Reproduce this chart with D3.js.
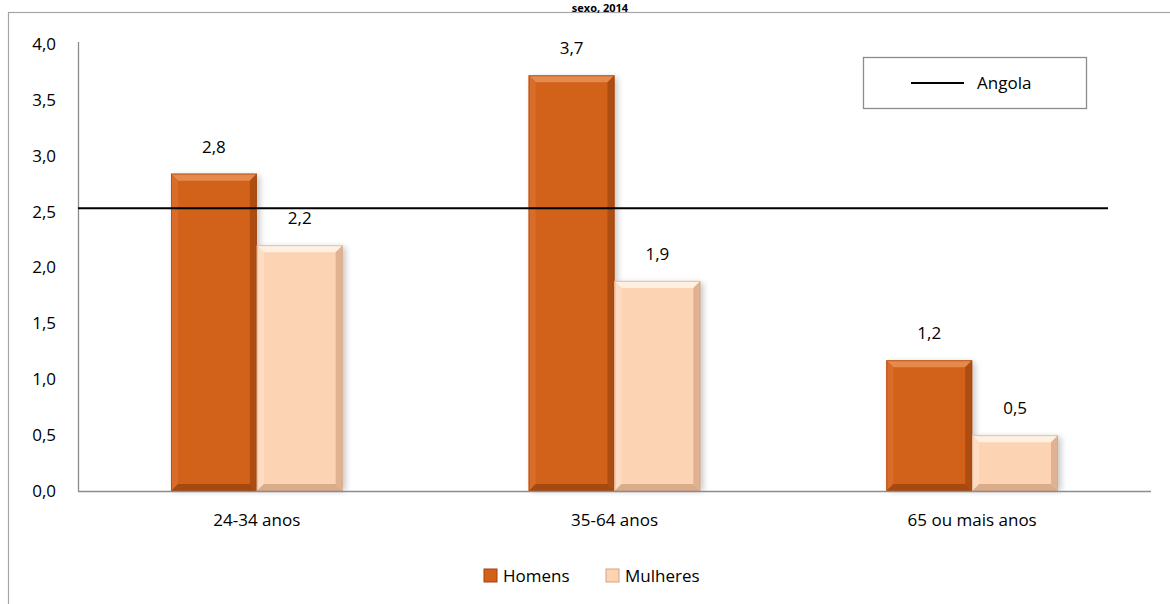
<!DOCTYPE html>
<html>
<head>
<meta charset="utf-8">
<script src="https://cdn.jsdelivr.net/npm/d3@7"></script>
<style>
  body { margin: 0; background: #fff; }
  svg { display: block; font-family: "Open Sans", Lato, sans-serif; }
</style>
</head>
<body>
<div id="chart"></div>
<script>
// data
const categories = ["24-34 anos", "35-64 anos", "65 ou mais anos"]
const seriesNames = ["Homens", "Mulheres"]
const homens = [2.84, 3.72, 1.17]
const mulheres = [2.2, 1.88, 0.5]
const angola = 2.53
const yTicks = [0, 0.5, 1, 1.5, 2, 2.5, 3, 3.5, 4]

const width = 1170, height = 604
const margin = { top: 44, right: 19, bottom: 113, left: 78 }

const colors = {
   Homens: { base: "#d2611a", light: "#e58a4a", side: "#d96c2a", dark: "#9e4510" },
   Mulheres: { base: "#fcd4b4", light: "#fff0e2", side: "#fddcc2", dark: "#d4a483" }
}

const data = categories.map((c, i) => ({ cat: c, Homens: homens[i], Mulheres: mulheres[i] }))

const fmt = v => d3.format(".1f")(v).replace(".", ",")

const x0 = d3.scaleBand()
   .domain(categories)
   .range([margin.left, width - margin.right])
   .paddingInner(0.52)
   .paddingOuter(0.26)

const x1 = d3.scaleBand()
   .domain(seriesNames)
   .range([0, x0.bandwidth()])

const y = d3.scaleLinear()
   .domain([0, 4])
   .range([height - margin.bottom, margin.top])

const svg = d3.select("#chart").append("svg")
   .attr("width", width)
   .attr("height", height)

// outer chart frame
svg.append("rect")
   .attr("x", 8.5).attr("y", 12.5)
   .attr("width", 1200).attr("height", 700)
   .attr("fill", "#fff")
   .attr("stroke", "#a6a6a6")
   .attr("stroke-width", 1.2)

// title (first line falls off the top in the original)
svg.append("text")
   .attr("x", 600).attr("y", 11.5)
   .attr("text-anchor", "middle")
   .attr("font-weight", "bold")
   .attr("font-size", 11)
   .text("sexo, 2014")

const defs = svg.append("defs")
const blur = defs.append("filter").attr("id", "shadow")
   .attr("x", "-20%").attr("y", "-10%").attr("width", "150%").attr("height", "130%")
blur.append("feGaussianBlur").attr("stdDeviation", 3)

// y axis labels
svg.append("g")
   .attr("font-size", 17)
   .attr("fill", "#000")
   .selectAll("text")
   .data(yTicks)
   .join("text")
   .attr("x", 56)
   .attr("y", d => y(d))
   .attr("dy", "0.35em")
   .attr("text-anchor", "end")
   .text(d => d3.format(".1f")(d).replace(".", ","))

// bars
const bars = []
data.forEach(d => {
   seriesNames.forEach(s => {
      bars.push({ cat: d.cat, key: s, value: d[s] })
   })
})

const barG = svg.append("g")

// soft shadow behind each bar
barG.selectAll("rect.shadow")
   .data(bars)
   .join("rect")
   .attr("class", "shadow")
   .attr("x", d => x0(d.cat) + x1(d.key) + 3)
   .attr("y", d => y(d.value) + 2)
   .attr("width", x1.bandwidth())
   .attr("height", d => y(0) - y(d.value) - 2)
   .attr("fill", "#000")
   .attr("opacity", 0.22)
   .attr("filter", "url(#shadow)")

const bev = 7
bars.forEach(d => {
   const c = colors[d.key]
   const xl = x0(d.cat) + x1(d.key), xr = xl + x1.bandwidth()
   const yt = y(d.value), yb = y(0)
   const g = barG.append("g")
   g.append("rect")
      .attr("x", xl).attr("y", yt)
      .attr("width", xr - xl).attr("height", yb - yt)
      .attr("fill", c.base)
   const poly = (pts, fill, op) => g.append("polygon")
      .attr("points", pts.map(p => p.join(",")).join(" "))
      .attr("fill", fill).attr("opacity", op)
   // top bevel
   poly([[xl, yt], [xr, yt], [xr - bev, yt + bev], [xl + bev, yt + bev]], c.light, 1)
   // left bevel
   poly([[xl, yt], [xl + bev, yt + bev], [xl + bev, yb - bev], [xl, yb]], c.side, 1)
   // right bevel
   poly([[xr, yt], [xr, yb], [xr - bev, yb - bev], [xr - bev, yt + bev]], c.dark, 0.7)
   // bottom bevel
   poly([[xl, yb], [xr, yb], [xr - bev, yb - bev], [xl + bev, yb - bev]], c.dark, 0.85)
   g.append("rect")
      .attr("x", xl + 0.5).attr("y", yt + 0.5)
      .attr("width", xr - xl - 1).attr("height", yb - yt - 1)
      .attr("fill", "none")
      .attr("stroke", c.dark)
      .attr("stroke-opacity", 0.6)
})

// value labels
svg.append("g")
   .attr("font-size", 17)
   .attr("text-anchor", "middle")
   .selectAll("text")
   .data(bars)
   .join("text")
   .attr("x", d => x0(d.cat) + x1(d.key) + x1.bandwidth() / 2)
   .attr("y", d => y(d.value) - 27)
   .attr("dy", "0.35em")
   .text(d => fmt(d.value))

// axes lines
svg.append("line")
   .attr("x1", margin.left + 0.5).attr("x2", margin.left + 0.5)
   .attr("y1", margin.top - 2).attr("y2", y(0))
   .attr("stroke", "#8c8c8c").attr("stroke-width", 1.3)
svg.append("line")
   .attr("x1", margin.left).attr("x2", width - margin.right)
   .attr("y1", y(0) + 0.5).attr("y2", y(0) + 0.5)
   .attr("stroke", "#8c8c8c").attr("stroke-width", 1.3)

// category labels
svg.append("g")
   .attr("font-size", 17)
   .attr("text-anchor", "middle")
   .selectAll("text")
   .data(categories)
   .join("text")
   .attr("x", d => x0(d) + x0.bandwidth() / 2)
   .attr("y", y(0) + 35)
   .text(d => d)

// Angola reference line
svg.append("line")
   .attr("x1", margin.left).attr("x2", 1108)
   .attr("y1", y(angola)).attr("y2", y(angola))
   .attr("stroke", "#000").attr("stroke-width", 1.8)

// Angola legend box
const lg = svg.append("g")
lg.append("rect")
   .attr("x", 863.5).attr("y", 57.5)
   .attr("width", 223).attr("height", 51)
   .attr("fill", "#fff")
   .attr("stroke", "#8c8c8c").attr("stroke-width", 1.3)
lg.append("line")
   .attr("x1", 911).attr("x2", 964)
   .attr("y1", 83).attr("y2", 83)
   .attr("stroke", "#000").attr("stroke-width", 1.8)
lg.append("text")
   .attr("x", 977).attr("y", 83)
   .attr("dy", "0.35em")
   .attr("font-size", 17)
   .text("Angola")

// series legend
const legendX = [484, 606]
const leg = svg.append("g")
   .selectAll("g")
   .data(seriesNames)
   .join("g")
   .attr("transform", (d, i) => `translate(${legendX[i]},569)`)
leg.append("rect")
   .attr("width", 13).attr("height", 13)
   .attr("fill", d => colors[d].base)
   .attr("stroke", d => colors[d].dark)
leg.append("text")
   .attr("x", 19).attr("y", 7)
   .attr("dy", "0.35em")
   .attr("font-size", 17)
   .text(d => d)
</script>
</body>
</html>
